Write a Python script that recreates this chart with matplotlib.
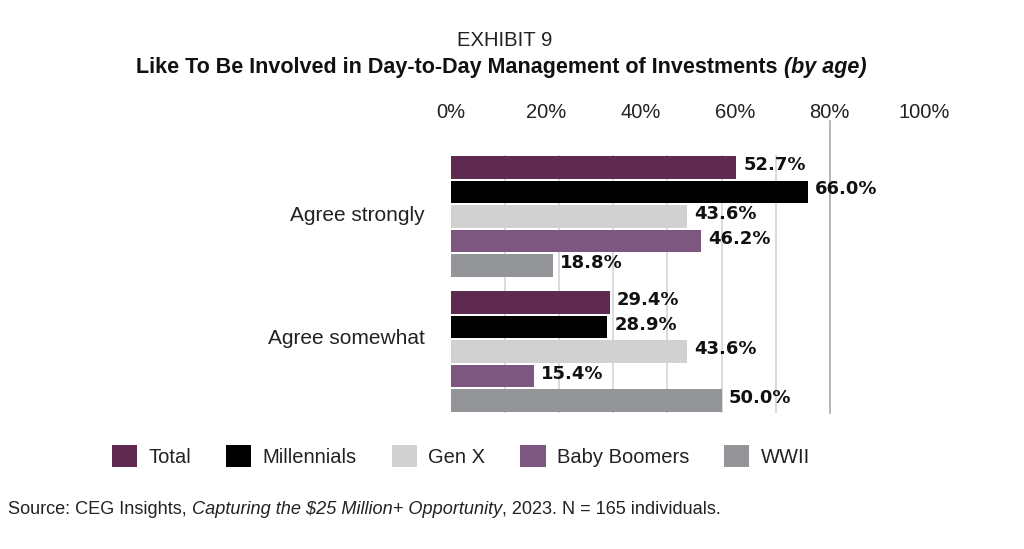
import numpy as np
import matplotlib
matplotlib.use("Agg")
import matplotlib.pyplot as plt
from matplotlib import font_manager
from matplotlib.patches import Patch

# данні з графіка
categories = ["Agree strongly", "Agree somewhat"]
series = ["Total", "Millennials", "Gen X", "Baby Boomers", "WWII"]
values = {
    "Total": [52.7, 29.4],
    "Millennials": [66.0, 28.9],
    "Gen X": [43.6, 43.6],
    "Baby Boomers": [46.2, 15.4],
    "WWII": [18.8, 50.0],
}
tick_labels = ["0%", "20%", "40%", "60%", "80%", "100%"]
colors = ["#5f2a50", "#000000", "#d1d1d1", "#7e5781", "#939598"]

names = {f.name for f in font_manager.fontManager.ttflist}
BASE = "Liberation Sans"
NARROW = "Liberation Sans Narrow" if "Liberation Sans Narrow" in names else BASE
plt.rcParams["font.family"] = [BASE, "DejaVu Sans"]

fig = plt.figure(figsize=(10.24, 5.49), dpi=100)
ax = fig.add_axes([451 / 1024, 1 - 413 / 549, 541 / 1024, 258 / 549])

group_gap = 5.5
for i, (name, col) in enumerate(zip(series, colors)):
    ys = [g * group_gap + i for g in range(len(categories))]
    vals = values[name]
    ax.barh(ys, vals, height=0.92, color=col, zorder=3)
    for y, v in zip(ys, vals):
        ax.text(v + 1.3, y - 0.1, f"{v:.1f}%", va="center", ha="left",
                fontsize=13, fontweight="bold", family="DejaVu Sans", color="#111111")

ax.set_xlim(0, 100)
ax.set_ylim(10.0, -0.5)

# сітка
for gx in range(10, 70, 10):
    ax.axvline(gx, color="#d4d4d4", lw=1.2, zorder=1)
ax.plot([70, 70], [0, 1.13], transform=ax.get_xaxis_transform(),
        color="#a8a8a8", lw=1.2, clip_on=False, zorder=1)

# підписи осі x (зсунуті як в оригіналі)
ax.xaxis.tick_top()
ax.set_xticks(np.linspace(0, 87.5, len(tick_labels)))
ax.set_xticklabels(tick_labels, fontsize=14.5, color="#222222")
ax.tick_params(axis="x", length=0, pad=24)

ax.set_yticks([1.9, 6.9])
ax.set_yticklabels(categories, fontsize=15, color="#222222")
ax.tick_params(axis="y", length=0, pad=19)

for s in ax.spines.values():
    s.set_visible(False)

handles = [Patch(facecolor=c, edgecolor="none") for c in colors]
fig.legend(handles, series, loc="center left", bbox_to_anchor=(112 / 1024, 1 - 456 / 549),
           ncol=5, frameon=False, fontsize=14.5, handlelength=1.25, handleheight=1.25,
           handletextpad=0.55, columnspacing=1.75, borderpad=0, borderaxespad=0,
           labelcolor="#222222")


def put_segments(segs, x, y, ha="left", **kw):
    # текст з кількох шматків (звичайний + курсив)
    r = fig.canvas.get_renderer()
    bar = fig.text(0, 0, "|", **kw)
    wbar = bar.get_window_extent(r).width
    bar.remove()
    texts, widths = [], []
    for s, st in segs:
        t = fig.text(0, y, s + "|", va="center", **kw, **st)
        w = t.get_window_extent(r).width - wbar
        t.set_text(s)
        texts.append(t)
        widths.append(w)
    start = x * fig.bbox.width
    if ha == "center":
        start -= sum(widths) / 2
    for t, w in zip(texts, widths):
        t.set_x(start / fig.bbox.width)
        start += w


fig.text(505 / 1024, 1 - 40 / 549, "EXHIBIT 9", ha="center", va="center",
         fontsize=14.6, family=NARROW, color="#222222")
put_segments([("Like To Be Involved in Day-to-Day Management of Investments ", {}),
              ("(by age)", {"style": "italic"})],
             501 / 1024, 1 - 68 / 549, ha="center",
             fontsize=15.5, fontweight="bold", family=NARROW, color="#111111")
put_segments([("Source: CEG Insights, ", {}),
              ("Capturing the $25 Million+ Opportunity", {"style": "italic"}),
              (", 2023. N = 165 individuals.", {})],
             8 / 1024, 1 - 509 / 549, fontsize=13.1, family=NARROW, color="#222222")

fig.savefig("out.png", dpi=100)
